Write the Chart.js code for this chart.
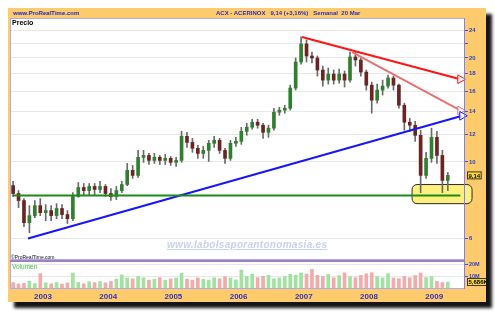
<!DOCTYPE html>
<html>
<head>
<meta charset="utf-8">
<script src="https://cdn.jsdelivr.net/npm/chart.js@4.4.1/dist/chart.umd.min.js"></script>
<style>
body { margin: 0; background: #fff; width: 495px; height: 315px; overflow: hidden; font-family: "Liberation Sans", Arial, sans-serif; }
#frame { position: absolute; left: 8px; top: 8px; width: 478px; height: 294px; background: #fdca6c; box-shadow: 6px 6px 3px rgba(0,0,0,0.92); }
.txt { position: absolute; white-space: nowrap; }
#site { left: 13px; top: 10px; font-size: 6px; font-weight: bold; color: #2b30c0; }
#title { left: 216px; top: 10px; font-size: 6px; font-weight: bold; color: #2b30c0; }
#precio { left: 12px; top: 19px; font-size: 7px; font-weight: bold; color: #000; }
#copy { left: 11px; top: 254px; font-size: 5px; color: #111; }
#volumen { left: 12px; top: 263px; font-size: 6.5px; color: #47c047; }
#mark { left: 167px; top: 239px; font-size: 10px; font-weight: bold; font-style: italic; color: #c6d3e8; letter-spacing: 0.3px; text-decoration: underline; }
canvas { position: absolute; }
#priceChart { left: 10px; top: 18px; }
#volChart { left: 10px; top: 260px; }
</style>
</head>
<body>
<div id="frame"></div>
<canvas id="priceChart" width="476" height="242"></canvas>
<canvas id="volChart" width="476" height="42"></canvas>
<div class="txt" id="site">www.ProRealTime.com</div>
<div class="txt" id="title">ACX - ACERINOX &nbsp; 9,14 (+3,16%) &nbsp; Semanal &nbsp;20 Mar</div>
<div class="txt" id="precio">Precio</div>
<div class="txt" id="copy">©ProRealTime.com</div>
<div class="txt" id="volumen">Volumen</div>
<div class="txt" id="mark">www.labolsaporantonomasia.es</div>
<script>
// monthly candles
var months = [
  '2002-07','2002-08','2002-09','2002-10','2002-11','2002-12',
  '2003-01','2003-02','2003-03','2003-04','2003-05','2003-06','2003-07','2003-08','2003-09','2003-10','2003-11','2003-12',
  '2004-01','2004-02','2004-03','2004-04','2004-05','2004-06','2004-07','2004-08','2004-09','2004-10','2004-11','2004-12',
  '2005-01','2005-02','2005-03','2005-04','2005-05','2005-06','2005-07','2005-08','2005-09','2005-10','2005-11','2005-12',
  '2006-01','2006-02','2006-03','2006-04','2006-05','2006-06','2006-07','2006-08','2006-09','2006-10','2006-11','2006-12',
  '2007-01','2007-02','2007-03','2007-04','2007-05','2007-06','2007-07','2007-08','2007-09','2007-10','2007-11','2007-12',
  '2008-01','2008-02','2008-03','2008-04','2008-05','2008-06','2008-07','2008-08','2008-09','2008-10','2008-11','2008-12',
  '2009-01','2009-02','2009-03'
];
var opens = [
  8.54, 8.10, 7.73, 6.67, 6.99, 7.47,
  7.13, 7.23, 6.99, 7.33, 7.04, 6.85, 7.94, 8.43, 8.26, 8.49, 8.32, 8.49,
  8.10, 7.94, 8.26, 8.60, 9.45, 9.14, 10.31, 10.44, 10.10, 10.31, 10.10, 10.24,
  9.97, 10.10, 11.86, 11.39, 10.95, 10.58, 10.80, 11.32, 11.55, 10.80, 10.24, 11.32,
  11.47, 12.26, 12.60, 13.03, 12.77, 12.18, 12.52, 13.93, 14.12, 14.30, 16.36, 19.46,
  21.96, 20.26, 19.99, 18.45, 17.25, 17.96, 17.25, 17.96, 17.25, 20.13, 19.72, 18.20,
  16.68, 15.09, 16.14, 16.58, 17.49, 16.68, 14.59, 13.03, 12.77, 11.94, 9.14, 10.24,
  11.78, 10.44, 8.84
];
var highs = [
  8.78, 8.26, 7.83, 7.47, 7.73, 7.83,
  7.52, 7.47, 7.57, 7.52, 7.23, 8.15, 8.72, 8.66, 8.66, 8.66, 8.78, 8.60,
  8.37, 8.49, 8.78, 9.90, 9.77, 10.80, 10.80, 10.58, 10.58, 10.44, 10.51, 10.37,
  10.31, 12.26, 12.18, 11.70, 11.17, 11.09, 11.55, 11.86, 11.70, 10.95, 11.55, 11.78,
  12.60, 12.94, 13.29, 13.29, 12.94, 12.77, 14.30, 14.40, 14.59, 16.68, 19.99, 23.01,
  22.55, 20.81, 20.26, 18.95, 18.70, 18.45, 18.57, 18.33, 20.81, 20.81, 19.99, 18.45,
  17.03, 16.80, 17.25, 17.84, 17.72, 16.80, 14.79, 13.38, 13.11, 12.35, 10.66, 12.52,
  12.26, 10.80, 9.32
];
var lows = [
  7.94, 7.37, 6.49, 6.24, 6.90, 6.99,
  6.76, 6.76, 6.85, 6.85, 6.63, 6.76, 7.90, 8.04, 7.99, 7.99, 8.15, 7.94,
  7.73, 7.78, 8.15, 8.54, 8.96, 9.02, 9.97, 9.83, 9.90, 9.83, 9.83, 9.77,
  9.70, 9.97, 11.02, 10.66, 10.24, 10.24, 10.03, 11.02, 10.58, 9.90, 10.10, 11.09,
  11.24, 11.94, 12.43, 12.52, 11.70, 11.78, 12.35, 13.65, 13.84, 14.12, 16.14, 19.20,
  19.46, 19.33, 17.72, 16.58, 16.80, 16.80, 16.91, 16.47, 17.03, 18.95, 17.72, 16.14,
  13.84, 14.79, 15.61, 16.36, 16.14, 14.30, 12.35, 12.26, 11.47, 8.15, 8.96, 9.97,
  9.90, 8.15, 8.26
];
var closes = [
  8.10, 7.73, 6.67, 6.99, 7.47, 7.13,
  7.23, 6.99, 7.33, 7.04, 6.85, 7.94, 8.43, 8.26, 8.49, 8.32, 8.49, 8.10,
  7.94, 8.26, 8.60, 9.45, 9.14, 10.31, 10.44, 10.10, 10.31, 10.10, 10.24, 9.97,
  10.10, 11.86, 11.39, 10.95, 10.58, 10.80, 11.32, 11.55, 10.80, 10.24, 11.32, 11.47,
  12.26, 12.60, 13.03, 12.77, 12.18, 12.52, 13.93, 14.12, 14.30, 16.36, 19.46, 21.96,
  20.26, 19.99, 18.45, 17.25, 17.96, 17.25, 17.96, 17.25, 20.13, 19.72, 18.20, 16.68,
  15.09, 16.14, 16.58, 17.49, 16.68, 14.59, 13.03, 12.77, 11.94, 9.14, 10.24, 11.78,
  10.44, 8.84, 9.14
];
// volume in millions of shares
var volumes = [
  5.2, 4.1, 4.6, 6.3, 4.4, 12.5,
  5.1, 4.2, 5.3, 4.0, 5.0, 13.0, 5.4, 4.3, 6.0, 5.2, 6.1, 5.0,
  6.2, 8.1, 11.5, 9.0, 8.3, 10.2, 9.1, 7.2, 8.0, 9.3, 7.1, 8.2,
  9.0, 12.8, 8.1, 7.2, 9.1, 8.0, 7.3, 9.2, 8.4, 10.1, 9.0, 7.4,
  15.5, 10.2, 12.1, 9.3, 10.4, 11.2, 8.3, 9.1, 10.2, 12.0, 11.3, 13.1,
  12.2, 16.0, 11.1, 10.3, 12.0, 9.2, 11.0, 13.2, 10.1, 9.3, 11.1, 12.4,
  13.3, 10.2, 9.1, 12.5, 9.0, 8.4, 10.3, 9.2, 11.0, 13.1, 9.3, 10.1,
  6.2, 5.3, 5.686
];
var priceTicks = [6, 8, 10, 12, 14, 16, 18, 20, 22, 24];
var volTicks = [10, 20];
var years = [2003, 2004, 2005, 2006, 2007, 2008, 2009];

// drawn lines: [decimal year, price]
var redLine = [[2006.97, 23.0], [2009.40, 17.35]];
var pinkLine = [[2007.74, 20.8], [2009.40, 14.1]];
var blueLine = [[2002.77, 6.0], [2009.43, 13.6]];
var greenLine = [[2002.54, 8], [2009.40, 8]];
var zoneX = [2008.66, 2009.58];
var zoneY = [7.57, 8.60];

var xMin = 2002.494, xMax = 2009.472;
var font = '"Liberation Sans", Arial, sans-serif';

var t = months.map(function(m) {
  var p = m.split('-');
  return +p[0] + (+p[1] - 0.5) / 12;
});
var up = closes.map(function(c, i) { return c >= opens[i]; });

function pts(arr) { return arr.map(function(p) { return {x: p[0], y: p[1]}; }); }
function trend(arr, color, arrow) {
  return {
    type: 'line', data: pts(arr), borderColor: color, borderWidth: 2,
    pointRadius: arrow ? [0, 5] : 0, pointStyle: 'triangle', rotation: 90,
    pointBackgroundColor: 'rgba(255,255,255,0.85)', pointBorderColor: color, pointBorderWidth: 1,
    clip: false, order: 0
  };
}

function tag(ctx, text, x, y) {
  ctx.font = 'bold 6px ' + font;
  var w = ctx.measureText(text).width + 3;
  ctx.fillStyle = '#fbd83c';
  ctx.fillRect(x, y - 4, w, 8);
  ctx.strokeStyle = '#333';
  ctx.lineWidth = 1;
  ctx.strokeRect(x + 0.5, y - 3.5, w - 1, 7);
  ctx.fillStyle = '#000';
  ctx.textBaseline = 'middle';
  ctx.fillText(text, x + 1.5, y + 0.5);
}

var panel = {
  id: 'panel',
  beforeDraw: function(chart) {
    var a = chart.chartArea, ctx = chart.ctx;
    ctx.save();
    ctx.fillStyle = '#fff';
    ctx.fillRect(a.left, a.top, a.right - a.left, a.bottom - a.top);
    ctx.restore();
  },
  beforeDatasetsDraw: function(chart) {
    if (chart.canvas.id !== 'priceChart') return;
    var ctx = chart.ctx, x = chart.scales.x, y = chart.scales.y;
    var x0 = x.getPixelForValue(zoneX[0]), x1 = x.getPixelForValue(zoneX[1]);
    var y0 = y.getPixelForValue(zoneY[1]), y1 = y.getPixelForValue(zoneY[0]);
    ctx.save();
    ctx.beginPath();
    ctx.roundRect(x0, y0, x1 - x0, y1 - y0, 5);
    ctx.fillStyle = '#fdf07c';
    ctx.fill();
    ctx.strokeStyle = '#2a2a2a';
    ctx.lineWidth = 1;
    ctx.stroke();
    ctx.restore();
  },
  afterDraw: function(chart) {
    var a = chart.chartArea, ctx = chart.ctx;
    ctx.save();
    ctx.strokeStyle = '#ababf0';
    ctx.lineWidth = 1;
    ctx.strokeRect(a.left + 0.5, a.top + 0.5, a.right - a.left - 1, a.bottom - a.top - 1);
    ctx.strokeStyle = '#7f7ff5';
    ctx.beginPath();
    ctx.moveTo(a.right - 0.5, a.top);
    ctx.lineTo(a.right - 0.5, a.bottom);
    ctx.stroke();
    if (chart.canvas.id === 'volChart') {
      ctx.strokeStyle = '#9c80c8';
      ctx.lineWidth = 2;
      ctx.beginPath();
      ctx.moveTo(a.left, a.top + 1);
      ctx.lineTo(a.right, a.top + 1);
      ctx.stroke();
      var v = volumes[volumes.length - 1];
      tag(ctx, v.toFixed(3).replace('.', ',') + 'K', a.right + 2, chart.scales.y.getPixelForValue(v));
    } else {
      var c = closes[closes.length - 1];
      tag(ctx, c.toFixed(2).replace('.', ','), a.right + 2, chart.scales.y.getPixelForValue(c));
    }
    ctx.restore();
  }
};

function noPad(s) { s.paddingTop = 0; s.paddingBottom = 0; s.paddingLeft = 0; s.paddingRight = 0; }

new Chart(document.getElementById('priceChart'), {
  type: 'bar',
  data: {
    datasets: [
      trend(greenLine, '#1b8c1b', false),
      trend(blueLine, '#1515ff', true),
      trend(pinkLine, '#e67272', true),
      trend(redLine, '#ff1414', true),
      {
        type: 'bar', grouped: false, order: 2, barThickness: 3,
        data: t.map(function(x, i) { return {x: x, y: [opens[i], closes[i]]}; }),
        backgroundColor: up.map(function(u) { return u ? '#2f7f2f' : '#6e2323'; }),
        borderSkipped: false
      },
      {
        type: 'bar', grouped: false, order: 3, barThickness: 1,
        data: t.map(function(x, i) { return {x: x, y: [lows[i], highs[i]]}; }),
        backgroundColor: '#6a6a6a'
      }
    ]
  },
  options: {
    responsive: false, animation: false, devicePixelRatio: 1,
    layout: {padding: 0, autoPadding: false},
    plugins: {legend: {display: false}, tooltip: {enabled: false}},
    scales: {
      x: {type: 'linear', display: false, offset: false, grid: {offset: false}, min: xMin, max: xMax},
      y: {
        type: 'logarithmic', position: 'right', min: 5.2, max: 26.1, offset: false, bounds: 'data',
        afterBuildTicks: function(s) { s.ticks = priceTicks.map(function(v) { return {value: v}; }); },
        afterFit: function(s) { s.width = 21; noPad(s); },
        ticks: {
          autoSkip: false, color: '#3340c8', padding: 1,
          font: {size: 6, family: font, weight: 'bold'},
          callback: function(v) { return v === 22 ? '' : String(v); }
        },
        grid: {color: '#e8e8e8', tickLength: 3, tickColor: '#4a55dd'},
        border: {display: false}
      }
    }
  },
  plugins: [panel]
});

new Chart(document.getElementById('volChart'), {
  type: 'bar',
  data: {
    datasets: [{
      data: t.map(function(x, i) { return {x: x, y: volumes[i]}; }),
      backgroundColor: up.map(function(u) { return u ? '#9fe39f' : '#f2aaaa'; }),
      barThickness: 3
    }]
  },
  options: {
    responsive: false, animation: false, devicePixelRatio: 1,
    layout: {padding: 0, autoPadding: false},
    plugins: {legend: {display: false}, tooltip: {enabled: false}},
    scales: {
      x: {
        type: 'linear', position: 'bottom', min: xMin, max: xMax, offset: false,
        afterBuildTicks: function(s) { s.ticks = years.map(function(v) { return {value: v}; }); },
        afterFit: function(s) { s.height = 13; noPad(s); },
        ticks: {
          autoSkip: false, maxRotation: 0, color: '#3333bb', padding: 3,
          font: {size: 8, family: font, weight: 'bold'},
          callback: function(v) { return String(v); }
        },
        grid: {drawOnChartArea: false, drawTicks: false, offset: false},
        border: {display: false}
      },
      y: {
        position: 'right', min: 0, max: 23.7, offset: false,
        afterBuildTicks: function(s) { s.ticks = volTicks.map(function(v) { return {value: v}; }); },
        afterFit: function(s) { s.width = 21; noPad(s); },
        ticks: {
          autoSkip: false, color: '#3340c8', padding: 1,
          font: {size: 5.5, family: font, weight: 'bold'},
          callback: function(v) { return v + 'M'; }
        },
        grid: {color: '#e8e8e8', tickLength: 3, tickColor: '#4a55dd'},
        border: {display: false}
      }
    }
  },
  plugins: [panel]
});
</script>
</body>
</html>
